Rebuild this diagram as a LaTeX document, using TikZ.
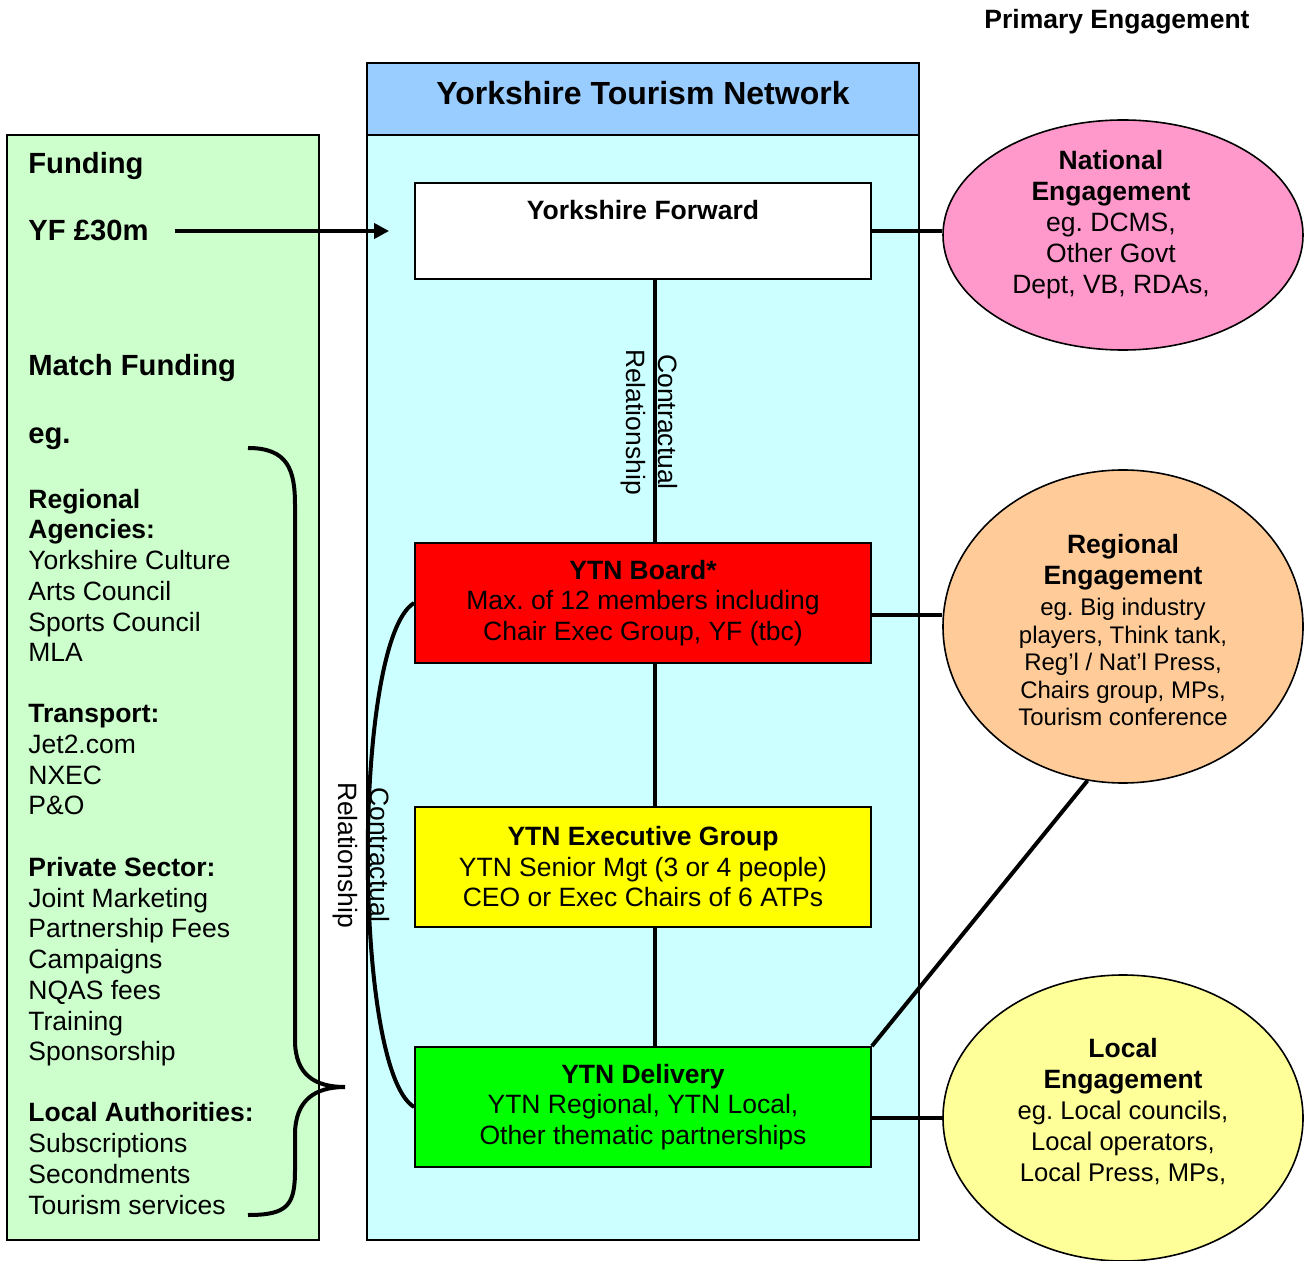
\documentclass[tikz,border=0pt]{standalone}
\usepackage{fontspec}
\setmainfont{Liberation Sans}
\usetikzlibrary{shapes.geometric,arrows.meta}
\definecolor{fundgreen}{HTML}{CCFFCC}
\definecolor{ytncyan}{HTML}{CCFFFF}
\definecolor{ytnhead}{HTML}{99CCFF}
\definecolor{natpink}{HTML}{FF99CC}
\definecolor{regorange}{HTML}{FFCC99}
\definecolor{locyellow}{HTML}{FFFF99}
\definecolor{boardred}{HTML}{FF0000}
\definecolor{execyellow}{HTML}{FFFF00}
\definecolor{delgreen}{HTML}{00FF00}
\frenchspacing
\begin{document}
\frenchspacing
\begin{tikzpicture}[x=0.5pt,y=-0.5pt,
  txt/.style={inner sep=0pt, font=\fontsize{13.25}{15.3}\selectfont},
  bigb/.style={inner sep=0pt, anchor=mid west, font=\fontsize{14.6}{17}\selectfont\bfseries},
  medb/.style={inner sep=0pt, anchor=mid west, font=\fontsize{13.25}{15.3}\selectfont\bfseries},
  reg13/.style={inner sep=0pt, anchor=mid west, font=\fontsize{13.25}{15.3}\selectfont},
  orgbox/.style={draw=black, line width=0.9pt, minimum width=228pt, minimum height=60pt, inner sep=0pt, align=center, font=\fontsize{13.25}{15.25}\selectfont},
  eng/.style={ellipse, draw=black, line width=0.8pt, inner sep=0pt, minimum width=180pt},
  conn/.style={line width=2pt, draw=black},
  rotlab/.style={inner sep=0pt, rotate=-90, align=center, font=\fontsize{13.25}{16}\selectfont}
]
\useasboundingbox (0,0) rectangle (1311,1261);
\fill[white] (0,0) rectangle (1311,1261);

\node[txt, font=\fontsize{13.25}{15.3}\selectfont\bfseries] (prim) at (1117,22) {Primary Engagement};

% funding panel
\draw[fill=fundgreen, line width=1pt] (7,135) rectangle (319,1240);
% YTN panel
\draw[fill=ytncyan, line width=1.1pt] (367,63) rectangle (919,1240);
\draw[fill=ytnhead, line width=1.1pt] (367,63) rectangle (919,135);
\node[txt, font=\fontsize{16}{19}\selectfont\bfseries] (ytn) at (643,93) {Yorkshire Tourism Network};

% left texts
\foreach \yy/\tx [count=\i] in {168/Funding, 235/YF £30m, 370/Match Funding, 438/eg.}
  \node[bigb] (lb\i) at (28,\yy) {\tx};
\foreach \yy/\tx [count=\i] in {503/Regional, 533/Agencies:, 717/Transport:, 871/Private Sector:, 1116/Local Authorities:}
  \node[medb] (lm\i) at (28,\yy) {\tx};
\foreach \yy/\tx [count=\i] in {564/Yorkshire Culture, 595/Arts Council, 626/Sports Council, 656/MLA, 748/Jet2.com, 779/NXEC, 809/P\&O, 902/Joint Marketing, 932/Partnership Fees, 963/Campaigns, 994/NQAS fees, 1025/Training, 1055/Sponsorship, 1147/Subscriptions, 1178/Secondments, 1209/Tourism services}
  \node[reg13] (lr\i) at (28,\yy) {\tx};

% organisation boxes
\node[orgbox, fill=white, minimum height=48pt] (yf) at (643,231) {};
\node[txt, font=\fontsize{13.25}{15.3}\selectfont\bfseries] (yft) at (643,210) {Yorkshire Forward};
\node[orgbox, fill=boardred] (board) at (643,603) {\textbf{YTN Board*}\\Max. of 12 members including\\Chair Exec Group, YF (tbc)};
\node[orgbox, fill=execyellow] (exec) at (643,867) {\textbf{YTN Executive Group}\\YTN Senior Mgt (3 or 4 people)\\CEO or Exec Chairs of 6 ATPs};
\node[orgbox, fill=delgreen] (deliv) at (643,1107) {\textbf{YTN Delivery}\\YTN Regional, YTN Local,\\Other thematic partnerships};

% vertical chain
\draw[conn] ([xshift=6pt]yf.south) -- ([xshift=6pt]board.north);
\draw[conn] ([xshift=6pt]board.south) -- ([xshift=6pt]exec.north);
\draw[conn] ([xshift=6pt]exec.south) -- ([xshift=6pt]deliv.north);

% engagement ellipses
\node[eng, fill=natpink, minimum height=115pt] (nat) at (1123,235) {};
\node[eng, fill=regorange, minimum height=156.5pt] (reg) at (1123,626.5) {};
\node[eng, fill=locyellow, minimum height=143pt] (loc) at (1123,1118) {};

\node[txt, align=center, font=\fontsize{13.25}{15.5}\selectfont\bfseries] (nath) at (1111,178.5) {National\\Engagement};
\node[txt, align=center, font=\fontsize{13.25}{15.5}\selectfont] (natb) at (1111,256) {eg. DCMS,\\Other Govt\\Dept, VB, RDAs,};
\node[txt, align=center, font=\fontsize{13.25}{15.5}\selectfont\bfseries] (regh) at (1123,562.5) {Regional\\Engagement};
\node[txt, align=center, font=\fontsize{12}{13.75}\selectfont] (regb) at (1123,662) {eg. Big industry\\players, Think tank,\\Reg’l / Nat’l Press,\\Chairs group, MPs,\\Tourism conference};
\node[txt, align=center, font=\fontsize{13.25}{15.5}\selectfont\bfseries] (loch) at (1123,1066.5) {Local\\Engagement};
\node[txt, align=center, font=\fontsize{12.8}{15.5}\selectfont] (locb) at (1123,1143) {eg. Local councils,\\Local operators,\\Local Press, MPs,};

% connectors to ellipses
\draw[conn] (yf.east) -- (yf.east -| nat.west);
\draw[conn] ([yshift=-6pt]board.east) -- ([yshift=5.75pt]reg.west);
\draw[conn] ([yshift=-5.5pt]deliv.east) -- (loc.west);
\draw[conn] (deliv.north east) -- (reg.-103);

% funding arrow
\coordinate (arrS) at (175,231);
\draw[conn, -{Triangle[length=7.5pt,width=7.5pt]}] (arrS) -- ([xshift=-12.5pt]yf.west);

% contractual arc
\draw[conn] (board.west) .. controls (352.3,640) and (352.3,1070) .. (deliv.west);

% brace
\draw[line width=2pt] (248,448) .. controls (288,448) and (295,470) .. (295,505)
  -- (295,1040) .. controls (295,1075) and (315,1087) .. (345,1087)
  .. controls (315,1087) and (295,1100) .. (295,1135)
  -- (295,1170) .. controls (295,1205) and (288,1215) .. (248,1215);

% contractual labels
\node[rotlab] (cr1) at (649,422) {Contractual\\Relationship};
\node[rotlab] (cr2) at (361.5,855) {Contractual\\Relationship};
\end{tikzpicture}
\end{document}
